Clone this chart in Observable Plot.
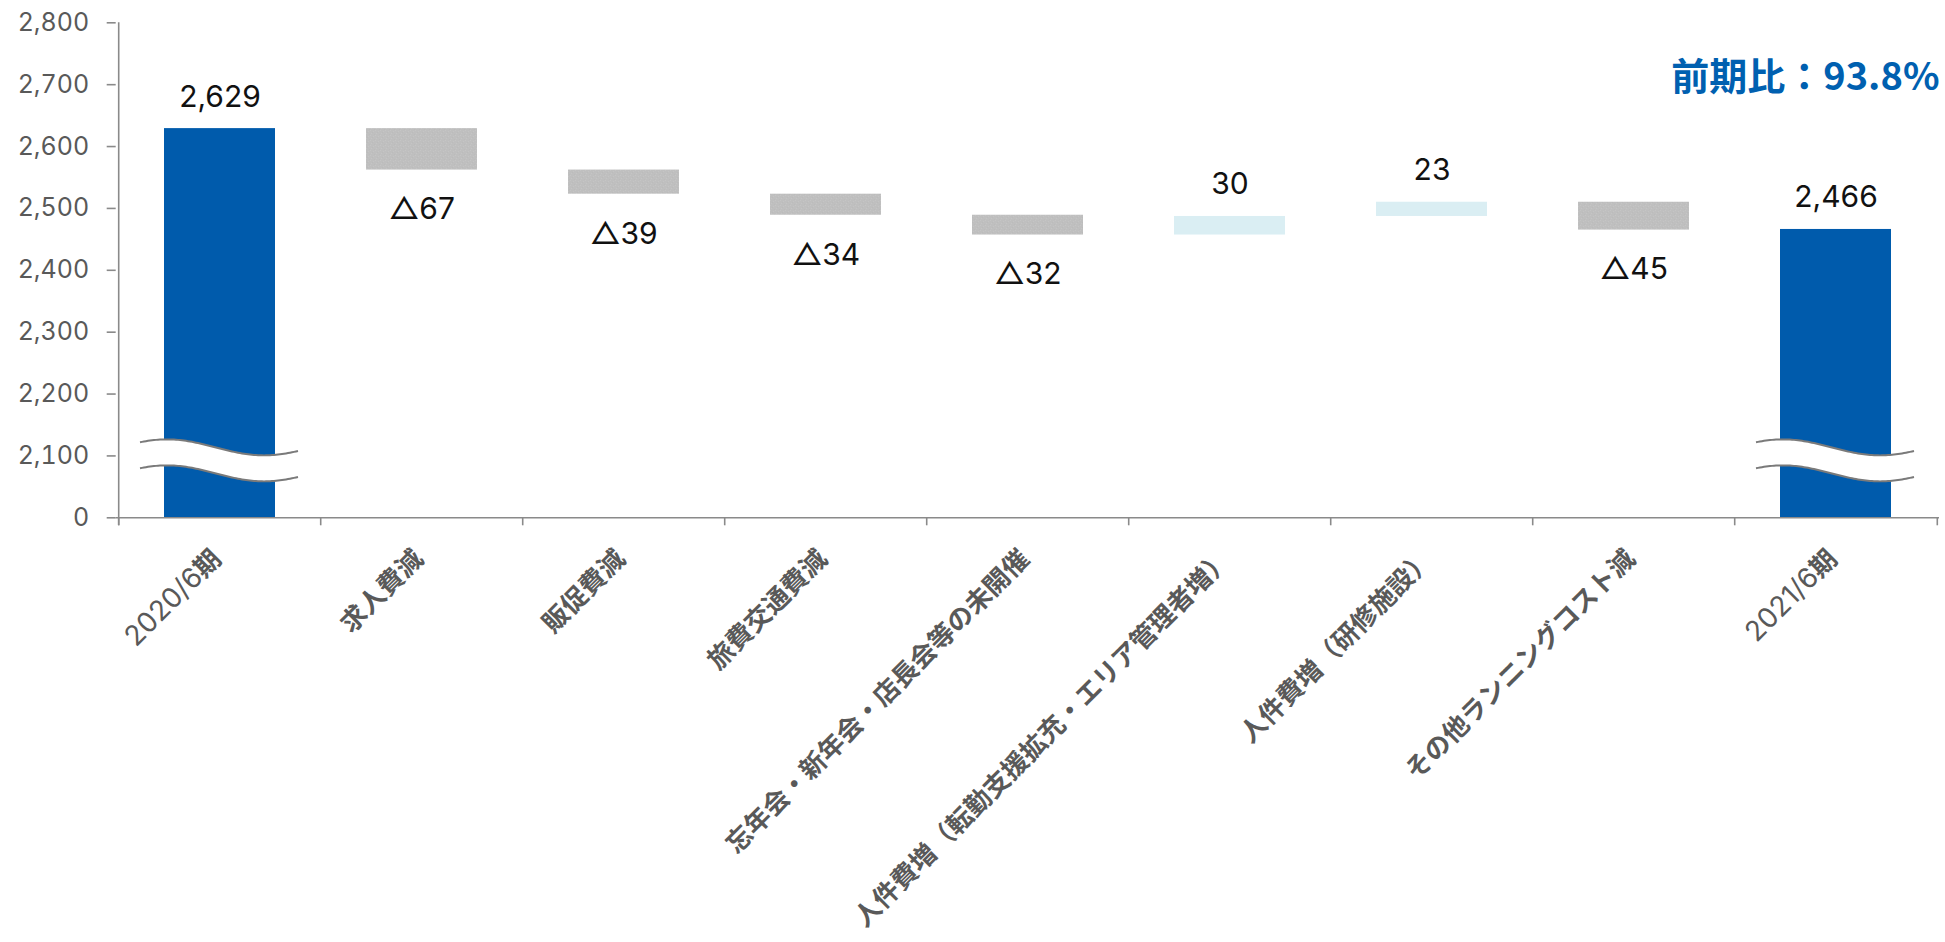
<!DOCTYPE html>
<html lang="ja">
<head>
<meta charset="utf-8">
<title>販管費 増減要因</title>
<script src="https://cdn.jsdelivr.net/npm/d3@7"></script>
<script src="https://cdn.jsdelivr.net/npm/@observablehq/plot@0.6"></script>
<style>
  html, body { margin: 0; padding: 0; background: #fff; overflow: hidden; }
  #chart svg { display: block; }
</style>
</head>
<body>
<div id="chart"></div>
<script>
// ---- data -------------------------------------------------------------
const categories = [
  "2020/6期",
  "求人費減",
  "販促費減",
  "旅費交通費減",
  "忘年会・新年会・店長会等の未開催",
  "人件費増（転勤支援拡充・エリア管理者増）",
  "人件費増（研修施設）",
  "その他ランニングコスト減",
  "2021/6期"
];
const openingTotal = 2629;
const closingTotal = 2466;
const changes = [-67, -39, -34, -32, 30, 23, -45];

// the value axis is broken: its bottom tick stands for 0
const axisBase = 2000;
const yTickValues = [2000, 2100, 2200, 2300, 2400, 2500, 2600, 2700, 2800];
const yTickLabels = ["0", "2,100", "2,200", "2,300", "2,400", "2,500", "2,600", "2,700", "2,800"];
const breakValue = 2092;

// ---- layout & style ---------------------------------------------------
const W = 1945, H = 942;
const mL = 115.7, mR = 6, mT = 22.3, mB = H - 517.3;
const step = (W - mL - mR) / categories.length;

const BLUE = "#005BAC";
const LIGHT = "#DAEEF3";
const GREY = "url(#grey-stipple)";
const AXIS = "#8a8a8a";
const INK = "#595959";
const NUM_FONT = "Inter, 'Noto Sans CJK JP', sans-serif";
const JP_FONT = "'Noto Sans CJK JP', sans-serif";

// ---- waterfall rows ---------------------------------------------------
const rows = [{label: categories[0], kind: "total", y1: axisBase, y2: openingTotal, value: openingTotal}];
let level = openingTotal;
changes.forEach((c, i) => {
  rows.push({label: categories[i + 1], kind: c < 0 ? "down" : "up", y1: level, y2: level + c, value: c});
  level += c;
});
rows.push({label: categories[categories.length - 1], kind: "total", y1: axisBase, y2: closingTotal, value: closingTotal});

const fmt = d3.format(",");
const labelText = d => d.kind === "down" ? "△" + fmt(-d.value) : fmt(d.value);
const tickLabel = new Map(yTickValues.map((v, i) => [v, yTickLabels[i]]));
const ratioText = "前期比：" + d3.format(".1%")(closingTotal / openingTotal);

const bar = {x: "label", y1: "y1", y2: "y2"};

const chart = Plot.plot({
  width: W,
  height: H,
  marginLeft: mL,
  marginRight: mR,
  marginTop: mT,
  marginBottom: mB,
  style: {background: "#fff", overflow: "visible"},
  x: {type: "band", domain: categories, paddingInner: 0.45, paddingOuter: 0.225, axis: null},
  y: {domain: [axisBase, 2800], axis: null},
  marks: [
    Plot.barY(rows.filter(d => d.kind === "total"), {...bar, fill: BLUE}),
    Plot.barY(rows.filter(d => d.kind === "down"), {...bar, fill: GREY}),
    Plot.barY(rows.filter(d => d.kind === "up"), {...bar, fill: LIGHT}),

    // axis lines and category boundary ticks
    Plot.ruleY([axisBase], {stroke: AXIS, strokeWidth: 1.6}),
    Plot.ruleX([categories[0]], {x: d => d, dx: -step / 2, insetBottom: -8, stroke: AXIS, strokeWidth: 1.6}),
    Plot.ruleX(categories, {x: d => d, y1: axisBase, y2: axisBase, insetBottom: -8, dx: -step / 2, stroke: AXIS, strokeWidth: 1.6}),
    Plot.ruleX(categories.slice(-1), {x: d => d, y1: axisBase, y2: axisBase, insetBottom: -8, dx: step / 2, stroke: AXIS, strokeWidth: 1.6}),

    Plot.axisY({
      ticks: yTickValues,
      tickFormat: d => tickLabel.get(d),
      tickSize: 9,
      tickPadding: 18,
      label: null,
      fontSize: 25,
      fontFamily: NUM_FONT,
      fill: INK,
      stroke: AXIS,
      strokeWidth: 1.6
    }),

    // value labels
    Plot.text(rows.filter(d => d.kind !== "down"), {
      x: "label", y: d => Math.max(d.y1, d.y2), text: labelText,
      lineAnchor: "bottom", dy: -22, fontSize: 30, fill: "#111", fontFamily: NUM_FONT
    }),
    Plot.text(rows.filter(d => d.kind === "down"), {
      x: "label", y: d => Math.min(d.y1, d.y2), text: labelText,
      lineAnchor: "top", dy: 28, fontSize: 30, fill: "#111", fontFamily: NUM_FONT
    }),

    // slanted category labels
    Plot.text(categories, {
      x: d => d, text: d => d, frameAnchor: "bottom",
      rotate: -45, textAnchor: "end", lineAnchor: "middle",
      dx: -3, dy: 37, fontSize: 26, fontWeight: 700, fill: INK, fontFamily: JP_FONT
    }),

    // year-on-year ratio
    Plot.text([ratioText], {
      text: d => d, frameAnchor: "top-right", textAnchor: "end", lineAnchor: "middle",
      dy: 55, fontSize: 38, fontWeight: 700, fill: "#0060B0", fontFamily: JP_FONT
    })
  ]
});

document.getElementById("chart").append(chart);

const svg = d3.select(chart);

// faintly stippled grey fill for the decrease bars
const defs = svg.insert("defs", ":first-child");
const pat = defs.append("pattern")
  .attr("id", "grey-stipple")
  .attr("width", 5).attr("height", 5)
  .attr("patternUnits", "userSpaceOnUse");
pat.append("rect").attr("width", 5).attr("height", 5).attr("fill", "#bfbfbf");
[[0, 0, "#c5c5c5"], [3, 1, "#c5c5c5"], [1, 3, "#c5c5c5"], [4, 4, "#bbbbbb"], [2, 2, "#bbbbbb"]]
  .forEach(([x, y, c]) =>
    pat.append("rect").attr("x", x).attr("y", y).attr("width", 1).attr("height", 1).attr("fill", c));

// Latin parts of category labels in a lighter, slightly larger face
const catSet = new Set(categories);
svg.selectAll("text").each(function () {
  const t = this.textContent;
  if (!catSet.has(t) || !/[\x20-\x7E]/.test(t)) return;
  const runs = t.match(/[\x20-\x7E]+|[^\x20-\x7E]+/g);
  const sel = d3.select(this);
  sel.text(null);
  for (const r of runs) {
    const latin = /^[\x20-\x7E]+$/.test(r);
    sel.append("tspan").text(r)
      .attr("font-family", latin ? NUM_FONT : JP_FONT)
      .attr("font-weight", latin ? 400 : 700)
      .attr("font-size", latin ? 28 : 26);
  }
});

// wavy axis-break marks across the two total bars
const sx = chart.scale("x"), sy = chart.scale("y");
const breaks = svg.append("g");
for (const label of [categories[0], categories[categories.length - 1]]) {
  const cx = sx.apply(label) + sx.bandwidth / 2;
  const cy = sy.apply(breakValue);
  const span = sx.bandwidth / 2 + 24;
  const xs = d3.range(0, 2 * span + 0.5, 2).map(o => cx - span + o);
  const wave = (x, shift) => cy + shift - 8 * Math.cos(Math.PI * (x - (cx - span) - 27) / 97);
  const top = xs.map(x => [x, wave(x, -13)]);
  const bottom = xs.map(x => [x, wave(x, 13)]);
  const line = d3.line();
  breaks.append("path")
    .attr("d", line(top.concat(bottom.slice().reverse())) + "Z")
    .attr("fill", "#fff");
  for (const pts of [top, bottom]) {
    breaks.append("path").attr("d", line(pts))
      .attr("fill", "none").attr("stroke", "#7a7a7a").attr("stroke-width", 2);
  }
}
</script>
</body>
</html>
